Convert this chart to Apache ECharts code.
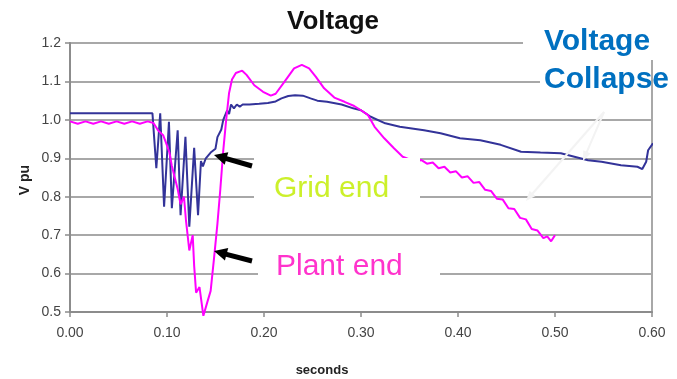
<!DOCTYPE html>
<html><head><meta charset="utf-8">
<script src="https://cdn.jsdelivr.net/npm/echarts@6/dist/echarts.min.js"></script>
<style>html,body{margin:0;padding:0;background:#fff}#c{width:677px;height:379px}</style>
</head><body><div id="c"></div>
<script>
// ---- data ----
var xTicks = ['0.00','0.10','0.20','0.30','0.40','0.50','0.60'];
var yTicks = ['0.5','0.6','0.7','0.8','0.9','1.0','1.1','1.2'];

var gridTime = [0.000,0.085,0.089,0.093,0.097,0.102,0.105,0.111,0.114,0.119,0.123,0.128,0.132,0.135,0.137,0.140,0.145,0.150,0.152,0.156,0.158,0.160,0.162,0.164,0.166,0.169,0.172,0.175,0.178,0.185,0.195,0.204,0.212,0.218,0.225,0.232,0.240,0.248,0.255,0.265,0.280,0.292,0.300,0.310,0.325,0.340,0.365,0.382,0.402,0.423,0.444,0.465,0.485,0.506,0.520,0.534,0.548,0.568,0.585,0.590,0.592,0.594,0.596,0.601];
var gridVolt = [1.017,1.017,0.874,1.017,0.774,0.995,0.770,0.973,0.752,0.956,0.722,0.927,0.752,0.893,0.879,0.900,0.915,0.925,0.955,0.975,1.000,1.005,1.025,1.015,1.040,1.030,1.040,1.034,1.040,1.040,1.042,1.044,1.048,1.056,1.062,1.064,1.063,1.056,1.050,1.047,1.040,1.030,1.025,1.008,0.991,0.982,0.973,0.965,0.952,0.947,0.935,0.917,0.915,0.913,0.904,0.895,0.891,0.882,0.878,0.872,0.870,0.891,0.921,0.939];

var plantTime = [0.000,0.008,0.016,0.024,0.032,0.040,0.048,0.056,0.064,0.072,0.080,0.086,0.091,0.096,0.099,0.1025,0.105,0.108,0.111,0.114,0.1175,0.1195,0.121,0.123,0.1265,0.128,0.130,0.1335,0.1375,0.1415,0.145,0.1485,0.152,0.155,0.158,0.161,0.164,0.167,0.171,0.1775,0.182,0.190,0.199,0.207,0.212,0.221,0.231,0.239,0.2465,0.2535,0.262,0.2725,0.283,0.293,0.300,0.307,0.314,0.324,0.334,0.343,0.350,0.356,0.362,0.368,0.374,0.380,0.386,0.392,0.398,0.404,0.410,0.416,0.422,0.428,0.434,0.440,0.446,0.452,0.458,0.464,0.470,0.476,0.482,0.488,0.492,0.496,0.500];
var plantVolt = [0.996,0.990,0.996,0.990,0.996,0.990,0.996,0.990,0.996,0.990,0.996,0.992,0.972,0.960,0.940,0.915,0.880,0.850,0.820,0.780,0.800,0.740,0.745,0.660,0.700,0.620,0.550,0.565,0.490,0.525,0.555,0.640,0.730,0.820,0.920,1.000,1.070,1.105,1.122,1.128,1.117,1.090,1.073,1.063,1.068,1.099,1.134,1.143,1.134,1.112,1.082,1.058,1.047,1.036,1.025,1.013,0.982,0.952,0.926,0.904,0.897,0.888,0.896,0.886,0.889,0.874,0.878,0.863,0.866,0.850,0.853,0.836,0.838,0.818,0.815,0.795,0.793,0.770,0.768,0.745,0.741,0.716,0.712,0.692,0.697,0.684,0.700];

function pairs(t, v){ var o=[]; for(var i=0;i<t.length;i++) o.push([t[i],v[i]]); return o; }

var FONT = "'Liberation Sans', Arial, sans-serif";

function arrow(x1,y1,x2,y2,color,w,hl,hw){
  var dx=x2-x1, dy=y2-y1, L=Math.sqrt(dx*dx+dy*dy), ux=dx/L, uy=dy/L;
  var bx=x2-ux*hl, by=y2-uy*hl, px=-uy, py=ux;
  return [
    {type:'line', z:200, shape:{x1:x1,y1:y1,x2:bx+ux*1,y2:by+uy*1}, style:{stroke:color,lineWidth:w}},
    {type:'polygon', z:200, shape:{points:[[x2,y2],[bx+px*hw,by+py*hw],[bx-px*hw,by-py*hw]]}, style:{fill:color}}
  ];
}
function txt(x,y,s,font,color,align){
  return {type:'text', z:210, x:x, y:y, style:{text:s, x:0, y:0, font:font, fill:color,
    textAlign:align||'left', align:align||'left', textVerticalAlign:'middle', verticalAlign:'middle'}};
}

var graphics = [];
graphics.push({type:'rect', z:150, shape:{x:254,y:158,width:166,height:60}, style:{fill:'#fff'}});
graphics.push({type:'rect', z:150, shape:{x:258,y:240,width:182,height:62}, style:{fill:'#fff'}});
graphics.push({type:'rect', z:150, shape:{x:523,y:22,width:154,height:38}, style:{fill:'#fff'}});
graphics.push({type:'rect', z:150, shape:{x:540,y:60,width:110,height:38}, style:{fill:'#fff'}});
graphics = graphics.concat(arrow(252,166,214,155,'#000',5,13,6.5));
graphics = graphics.concat(arrow(252,261,214,251,'#000',5,13,6.5));
graphics = graphics.concat(arrow(604,112,583,161,'#f3f3f3',2,10,4));
graphics = graphics.concat(arrow(604,112,526,201,'#f3f3f3',2,10,4));
graphics.push(txt(333,22,'Voltage','bold 26px '+FONT,'#111','center'));
graphics.push(txt(544,42,'Voltage','bold 30px '+FONT,'#0070C0','left'));
graphics.push(txt(544,80,'Collapse','bold 30px '+FONT,'#0070C0','left'));
graphics.push(txt(274,189,'Grid end','30px '+FONT,'#ccf02a','left'));
graphics.push(txt(276,267,'Plant end','30px '+FONT,'#ff33cc','left'));
graphics.push(txt(322,370,'seconds','bold 13px '+FONT,'#222','center'));
graphics.push({type:'text', z:210, x:25, y:180, rotation:Math.PI/2,
  style:{text:'V pu', x:0, y:0, font:'bold 14px '+FONT, fill:'#222', textAlign:'center', align:'center', textVerticalAlign:'middle', verticalAlign:'middle'}});

var chart = echarts.init(document.getElementById('c'), null, {renderer:'canvas'});
chart.setOption({
  animation:false,
  backgroundColor:'#fff',
  grid:{left:70, right:25, top:43, bottom:67, show:true, borderColor:'#a8a8a8', borderWidth:2, backgroundColor:'transparent'},
  xAxis:{type:'value', min:0, max:0.6, interval:0.1,
    axisLine:{show:true, lineStyle:{color:'#8c8c8c', width:2}},
    axisTick:{show:true, length:5, lineStyle:{color:'#8c8c8c', width:1.5}},
    splitLine:{show:false},
    axisLabel:{color:'#444', fontSize:14, fontFamily:FONT, margin:14,
      formatter:function(v){ return xTicks[Math.round(v*10)]; }}},
  yAxis:{type:'value', min:0.5, max:1.2, interval:0.1,
    axisLine:{show:true, lineStyle:{color:'#8c8c8c', width:2}},
    axisTick:{show:true, length:5, lineStyle:{color:'#8c8c8c', width:1.5}},
    splitLine:{show:true, lineStyle:{color:'#a8a8a8', width:2}},
    axisLabel:{color:'#444', fontSize:14, fontFamily:FONT, margin:9,
      formatter:function(v){ return yTicks[Math.round((v-0.5)*10)]; }}},
  series:[
    {type:'line', data:pairs(gridTime,gridVolt), symbol:'none', clip:false, z:3,
      lineStyle:{color:'#333399', width:2}},
    {type:'line', data:pairs(plantTime,plantVolt), symbol:'none', clip:false, z:4,
      lineStyle:{color:'#ff00ff', width:2}}
  ],
  graphic:graphics
});
</script></body></html>
